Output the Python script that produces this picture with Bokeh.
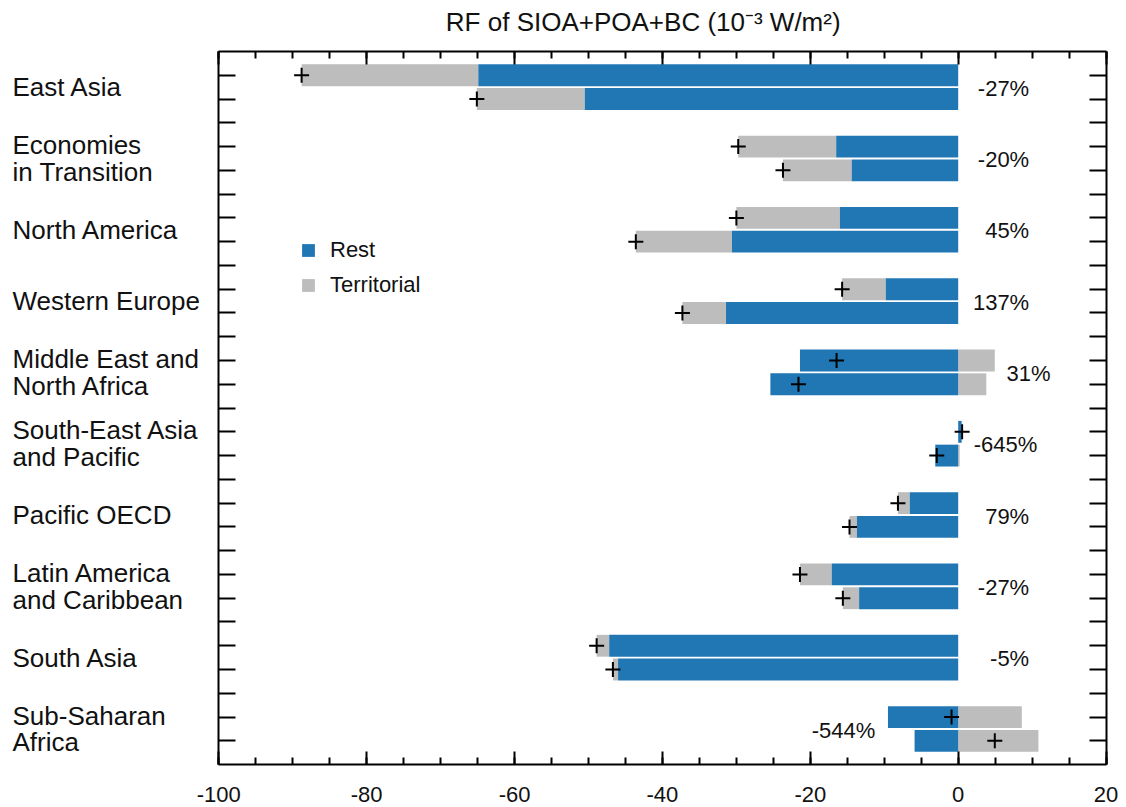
from bokeh.plotting import figure
from bokeh.models import (Range1d, FixedTicker, LinearAxis, Legend, LegendItem,
                          ColumnDataSource, CustomLabelingPolicy)
from bokeh.core.properties import value
from bokeh.embed import file_html
from bokeh.resources import INLINE

# ---------------- data ----------------
regions = ["East Asia", "Economies\nin Transition", "North America", "Western Europe",
           "Middle East and\nNorth Africa", "South-East Asia\nand Pacific", "Pacific OECD",
           "Latin America\nand Caribbean", "South Asia", "Sub-Saharan\nAfrica"]
rest_upper = [-64.9, -16.5, -16.0, -9.8, -21.4, 0.45, -6.55, -17.1, -47.2, -9.5]
terr_upper = [-23.9, -13.25, -14.0, -5.9, 4.95, 0.08, -1.6, -4.3, -1.7, 8.6]
rest_lower = [-50.5, -14.4, -30.6, -31.4, -25.4, -3.1, -13.7, -13.4, -46.0, -5.9]
terr_lower = [-14.6, -9.3, -13.0, -5.9, 3.8, 0.2, -1.0, -2.2, -0.7, 10.85]
change_labels = ["-27%", "-20%", "45%", "137%", "31%", "-645%", "79%", "-27%", "-5%", "-544%"]
x_ticks = [-100, -80, -60, -40, -20, 0, 20]
x_minor = [v for v in range(-100, 21, 5)]
legend_labels = ["Rest", "Territorial"]
title_text = "RF of SIOA+POA+BC (10\u207b\u00b3 W/m\u00b2)"

# ---------------- layout / style ----------------
W, H = 1118, 807
PX_X = 7.394          # pixels per x unit
PX_Y = 23.77          # pixels per y unit
X0_PX, Y30_PX = 218.3, 51.0
x_start = -100 - X0_PX / PX_X
x_end = x_start + W / PX_X
y_end = 30 + Y30_PX / PX_Y
y_start = y_end - H / PX_Y

label_x = [9.6, 9.6, 9.6, 9.6, 12.5, 10.7, 9.6, 9.6, 9.6, -11.2]
region_label_x = -127.9
tick_label_y = -1.24
title_y = 31.23
FONT = "Liberation Sans"
BLUE = "#2077b4"
GRAY = "#bdbdbd"
TXT = "#111111"

n = len(regions)
ys, rest, terr = [], [], []
for i in range(n):
    top = 3 * (n - i) - 1
    ys += [top, top - 1]
    rest += [rest_upper[i], rest_lower[i]]
    terr += [terr_upper[i], terr_lower[i]]

b_left = [min(0, r) for r in rest]
b_right = [max(0, r) for r in rest]
g_left, g_right = [], []
for r, t in zip(rest, terr):
    if r * t > 0:
        g_left.append(min(r, r + t)); g_right.append(max(r, r + t))
    else:
        g_left.append(min(0, t)); g_right.append(max(0, t))
total = [r + t for r, t in zip(rest, terr)]

src = ColumnDataSource(dict(y=ys, bl=b_left, br=b_right, gl=g_left, gr=g_right, tot=total))

p = figure(width=W, height=H, output_backend="svg", toolbar_location=None,
           title=None, x_range=Range1d(x_start, x_end), y_range=Range1d(y_start, y_end),
           min_border_left=0, min_border_right=0, min_border_top=0, min_border_bottom=0,
           x_axis_location=None, y_axis_location=None)
p.xgrid.grid_line_color = None
p.ygrid.grid_line_color = None
p.outline_line_color = None
p.background_fill_color = "white"
p.border_fill_color = "white"

g_r = p.hbar(y="y", left="gl", right="gr", height=0.92, source=src,
             fill_color=GRAY, line_color=None)
b_r = p.hbar(y="y", left="bl", right="br", height=0.92, source=src,
             fill_color=BLUE, line_color=None)
p.scatter(x="tot", y="y", source=src, marker="cross", size=15,
          line_color="black", line_width=2)

no_labels = CustomLabelingPolicy(code="return []")


def style_axis(ax):
    ax.axis_line_width = 2
    ax.major_tick_line_width = 2
    ax.minor_tick_line_width = 2
    ax.major_tick_out = 0
    ax.minor_tick_out = 0
    ax.major_label_text_font_size = "0px"
    ax.major_label_standoff = 0
    ax.major_label_policy = no_labels
    return ax


def mk_xaxis(loc):
    ax = LinearAxis(ticker=FixedTicker(ticks=x_ticks, minor_ticks=x_minor),
                    bounds=(-100, 20), fixed_location=loc)
    style_axis(ax)
    ax.major_tick_in = 13
    ax.minor_tick_in = 7
    return ax


def mk_yaxis(loc):
    ax = LinearAxis(ticker=FixedTicker(ticks=list(range(1, 30)), minor_ticks=[]),
                    bounds=(0, 30), fixed_location=loc)
    style_axis(ax)
    ax.major_tick_in = 17
    ax.minor_tick_in = 0
    return ax


p.add_layout(mk_xaxis(0), "below")
p.add_layout(mk_xaxis(30), "above")
p.add_layout(mk_yaxis(-100), "left")
p.add_layout(mk_yaxis(20), "right")

# x tick labels
p.text(x=x_ticks, y=[tick_label_y] * len(x_ticks), text=[str(v) for v in x_ticks],
       text_font=value(FONT), text_font_size="22px", text_color=TXT,
       text_align="center", text_baseline="middle")

# region labels
rl_x, rl_y, rl_t = [], [], []
for i, name in enumerate(regions):
    center = 3 * (n - i) - 1.5
    lines = name.split("\n")
    offs = [0.0] if len(lines) == 1 else [0.56, -0.56]
    for line, o in zip(lines, offs):
        rl_x.append(region_label_x); rl_y.append(center + o); rl_t.append(line)
p.text(x=rl_x, y=rl_y, text=rl_t, text_font=value(FONT), text_font_size="26px",
       text_color=TXT, text_align="left", text_baseline="middle")

# change labels
p.text(x=label_x, y=[3 * (n - i) - 1.5 - 0.05 for i in range(n)], text=change_labels,
       text_font=value(FONT), text_font_size="22px", text_color=TXT,
       text_align="right", text_baseline="middle")

# title
p.text(x=[-42.6], y=[title_y], text=[title_text], text_font=value(FONT),
       text_font_size="26px", text_color=TXT, text_align="center",
       text_baseline="middle")

legend = Legend(items=[LegendItem(label=legend_labels[0], renderers=[b_r]),
                       LegendItem(label=legend_labels[1], renderers=[g_r])],
                location=(300, 509), padding=0, margin=0, spacing=9,
                glyph_width=16, glyph_height=16, label_standoff=14,
                label_text_font=FONT, label_text_font_size="22px",
                label_text_color=TXT, label_height=20,
                border_line_color=None, background_fill_alpha=0)
p.add_layout(legend)

open("out.html", "w").write(file_html(p, INLINE))
